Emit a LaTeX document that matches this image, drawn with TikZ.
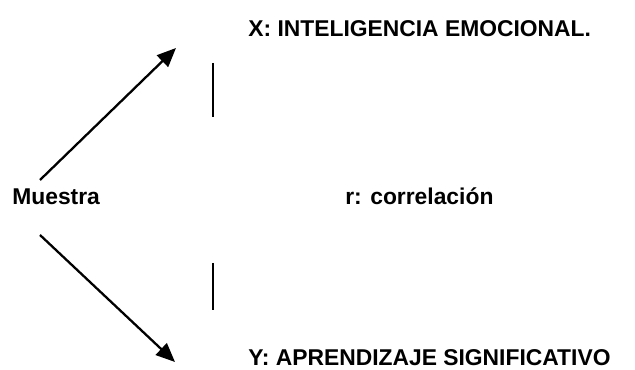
\documentclass[tikz,border=0pt]{standalone}
\usepackage{fontspec}
\setmainfont{Liberation Sans}
\usetikzlibrary{arrows.meta}

\begin{document}
\begin{tikzpicture}
\tikzstyle{label} = [anchor=base west, inner sep=0pt, font=\fontsize{13}{15}\selectfont\bfseries]
\tikzstyle{arrow} = [draw=black, line width=1.3pt, -{Triangle[length=0.38cm, width=0.32cm]}]
\tikzstyle{bar} = [draw=black, line width=1pt]

\useasboundingbox (0,0) rectangle (12.7,7.4);

\node[label] (muestra) at (0.24,3.3) {Muestra};
\node[label] (varX) at (4.96,6.66) {X: INTELIGENCIA EMOCIONAL.};
\node[label] (varY) at (4.96,0.08) {Y: APRENDIZAJE SIGNIFICATIVO};
\node[label] (corr) at (6.9,3.3) {r: correlación};

\coordinate (upS) at (0.8,3.8);
\coordinate (upE) at (3.52,6.44);
\coordinate (dnS) at (0.8,2.7);
\coordinate (dnE) at (3.5,0.16);
\coordinate (b1) at (4.26,6.14);
\coordinate (b2) at (4.26,5.06);
\coordinate (b3) at (4.26,2.14);
\coordinate (b4) at (4.26,1.2);

\draw[arrow] (upS) -- (upE);
\draw[arrow] (dnS) -- (dnE);
\draw[bar] (b1) -- (b2);
\draw[bar] (b3) -- (b4);
\end{tikzpicture}
\end{document}
